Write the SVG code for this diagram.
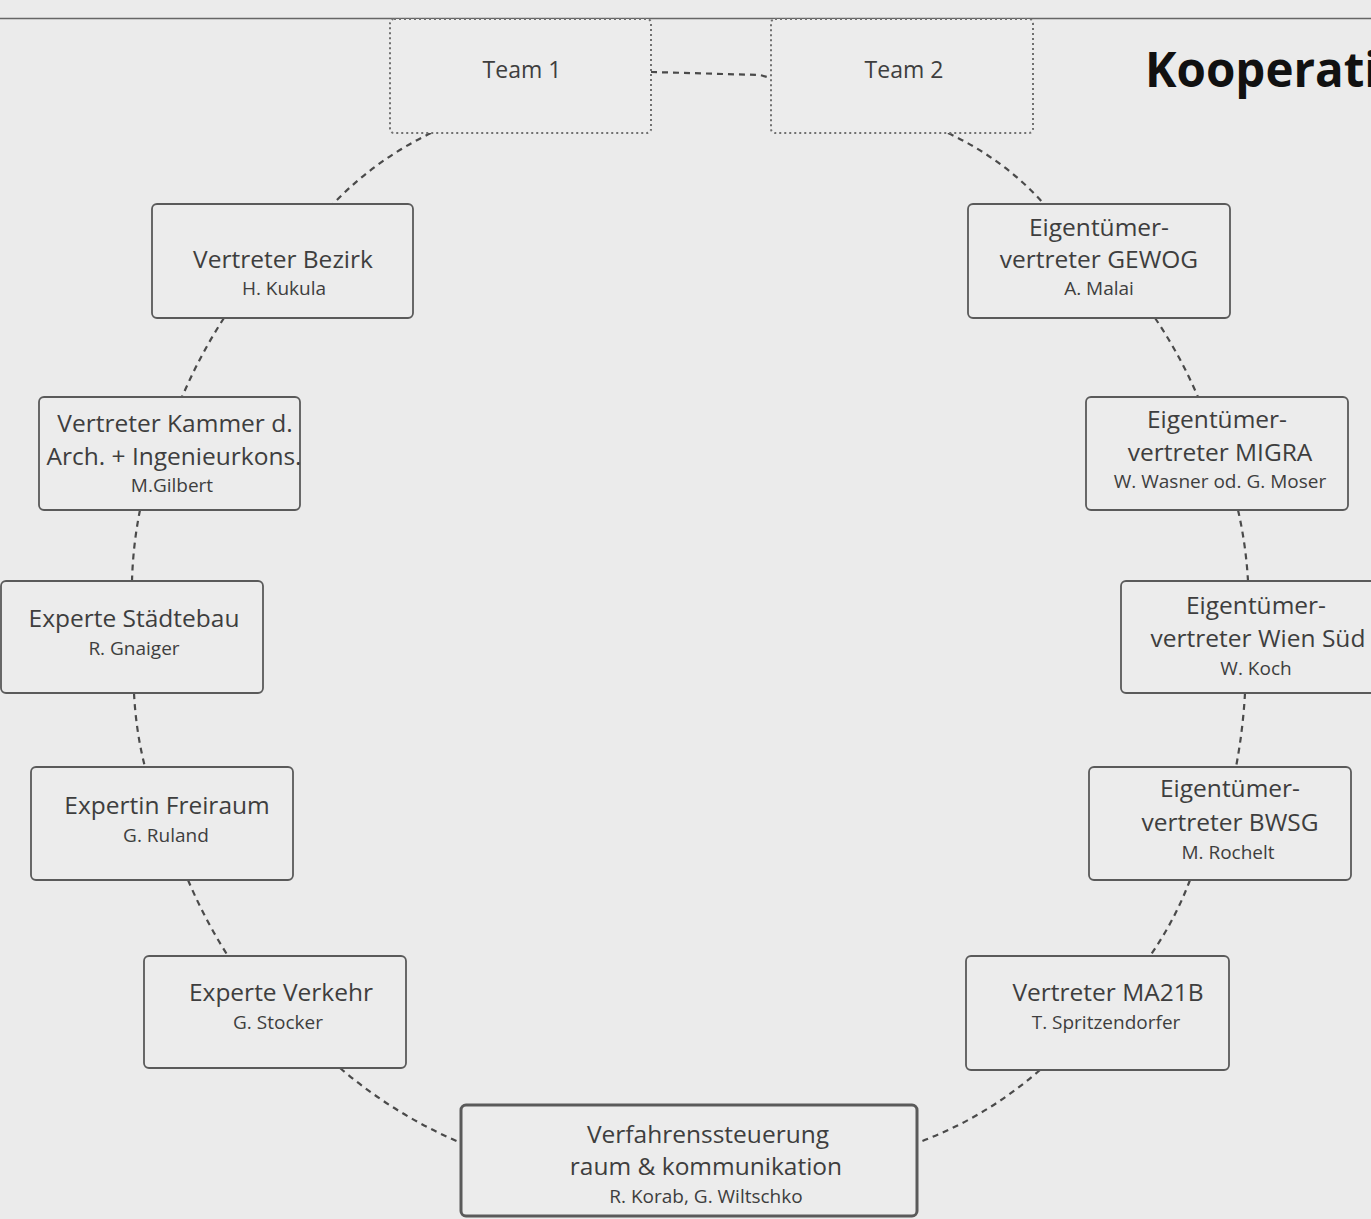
<svg xmlns="http://www.w3.org/2000/svg" width="1371" height="1219" viewBox="0 0 1371 1219">
<style>
.bg{fill:#ebebeb}
.box{fill:#ececec;stroke:#5a5a5a;stroke-width:1.8}
.dot{fill:#ececec;stroke:#707070;stroke-width:2;stroke-dasharray:2 3}
.main{stroke-width:3}
.t{font-family:"Open Sans","Liberation Sans",sans-serif;fill:#3e3e3e;text-anchor:middle;font-size:24.5px}
.tm{font-size:23px}
.s{font-size:19px}
.con{fill:none;stroke:#4a4a4a;stroke-width:2.2;stroke-dasharray:6 5}
.title{font-family:"Open Sans","Liberation Sans",sans-serif;font-weight:bold;font-size:47.5px;fill:#111}
</style>
<rect class="bg" x="0" y="0" width="1371" height="1219"/>
<line x1="0" y1="18.5" x2="1371" y2="18.5" stroke="#666" stroke-width="1.5"/>
<text class="title" x="1145" y="87">Kooperati</text>
<g id="connectors">
<path class="con" d="M651,72 L760,75 L771,78"/>
<path class="con" d="M431,133 Q375,160 333,204"/>
<path class="con" d="M948,133 Q1005,160 1044,204"/>
<path class="con" d="M224,318 Q200,355 182,397"/>
<path class="con" d="M140,510 Q133,545 132,581"/>
<path class="con" d="M134,693 Q136,732 145,767"/>
<path class="con" d="M188,880 Q205,920 228,956"/>
<path class="con" d="M340,1068 Q395,1115 461,1143"/>
<path class="con" d="M1155,318 Q1180,355 1198,397"/>
<path class="con" d="M1238,510 Q1246,545 1248,581"/>
<path class="con" d="M1245,693 Q1243,730 1236,767"/>
<path class="con" d="M1190,880 Q1175,920 1150,956"/>
<path class="con" d="M1040,1070 Q985,1118 917,1143"/>
</g>
<g id="team1"><rect class="dot" x="390" y="19" width="261" height="114" rx="4"/><text class="t tm" x="522" y="78">Team 1</text></g>
<g id="team2"><rect class="dot" x="771" y="19" width="262" height="114" rx="4"/><text class="t tm" x="904" y="78">Team 2</text></g>
<g id="bezirk"><rect class="box" x="152" y="204" width="261" height="114" rx="5"/><text class="t" x="283" y="268">Vertreter Bezirk</text><text class="t s" x="284" y="295">H. Kukula</text></g>
<g id="gewog"><rect class="box" x="968" y="204" width="262" height="114" rx="5"/><text class="t" x="1099" y="236">Eigentümer-</text><text class="t" x="1099" y="268">vertreter GEWOG</text><text class="t s" x="1099" y="295">A. Malai</text></g>
<g id="kammer"><rect class="box" x="39" y="397" width="261" height="113" rx="5"/><text class="t" x="175" y="432">Vertreter Kammer d.</text><text class="t" x="174" y="465">Arch. + Ingenieurkons.</text><text class="t s" x="172" y="492">M.Gilbert</text></g>
<g id="migra"><rect class="box" x="1086" y="397" width="262" height="113" rx="5"/><text class="t" x="1217" y="428">Eigentümer-</text><text class="t" x="1220" y="461">vertreter MIGRA</text><text class="t s" x="1220" y="488">W. Wasner od. G. Moser</text></g>
<g id="staedtebau"><rect class="box" x="1" y="581" width="262" height="112" rx="5"/><text class="t" x="134" y="627">Experte Städtebau</text><text class="t s" x="134" y="655">R. Gnaiger</text></g>
<g id="wiensued"><rect class="box" x="1121" y="581" width="262" height="112" rx="5"/><text class="t" x="1256" y="614">Eigentümer-</text><text class="t" x="1258" y="647">vertreter Wien Süd</text><text class="t s" x="1256" y="675">W. Koch</text></g>
<g id="freiraum"><rect class="box" x="31" y="767" width="262" height="113" rx="5"/><text class="t" x="167" y="814">Expertin Freiraum</text><text class="t s" x="166" y="842">G. Ruland</text></g>
<g id="bwsg"><rect class="box" x="1089" y="767" width="262" height="113" rx="5"/><text class="t" x="1230" y="797">Eigentümer-</text><text class="t" x="1230" y="831">vertreter BWSG</text><text class="t s" x="1228" y="859">M. Rochelt</text></g>
<g id="verkehr"><rect class="box" x="144" y="956" width="262" height="112" rx="5"/><text class="t" x="281" y="1001">Experte Verkehr</text><text class="t s" x="278" y="1029">G. Stocker</text></g>
<g id="ma21b"><rect class="box" x="966" y="956" width="263" height="114" rx="5"/><text class="t" x="1108" y="1001">Vertreter MA21B</text><text class="t s" x="1106" y="1029">T. Spritzendorfer</text></g>
<g id="verfahren"><rect class="box main" x="461" y="1105" width="456" height="111" rx="5"/><text class="t" x="708" y="1143">Verfahrenssteuerung</text><text class="t" x="706" y="1175">raum &amp; kommunikation</text><text class="t s" x="706" y="1203">R. Korab, G. Wiltschko</text></g>
</svg>
